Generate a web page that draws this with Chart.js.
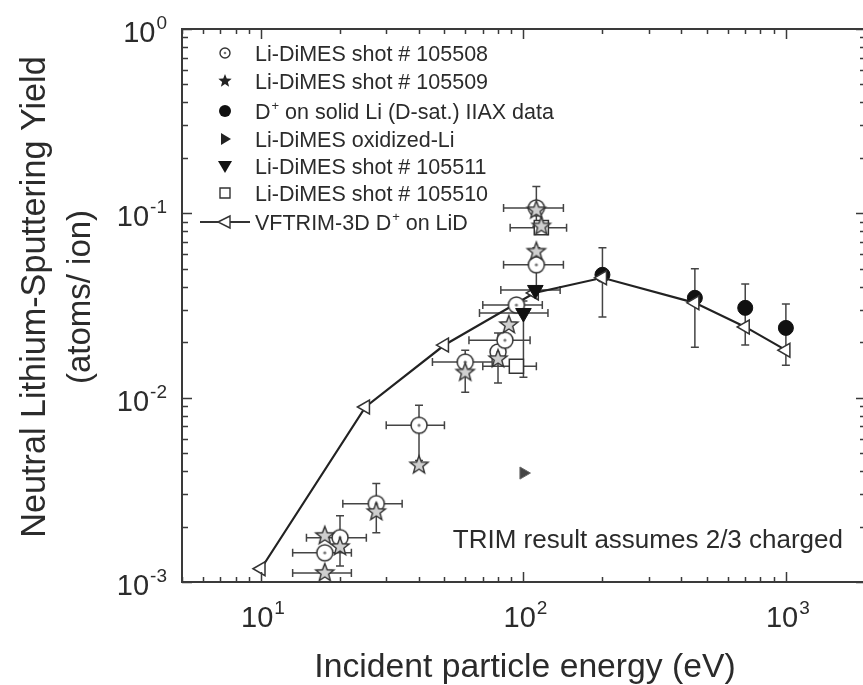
<!DOCTYPE html>
<html>
<head>
<meta charset="utf-8">
<script src="https://cdn.jsdelivr.net/npm/chart.js@4.4.0/dist/chart.umd.min.js"></script>
<style>
  html, body { margin: 0; padding: 0; background: #fff; overflow: hidden; }
  #c { display: block; width: 863px; height: 685px; }
</style>
</head>
<body>
<canvas id="c" width="863" height="685"></canvas>
<script>
// axis ranges and tick labels
const xMin = 5, xMax = 1950, yMin = 1e-3, yMax = 1;
const xMajor = [10, 100, 1000];
const xMajorExp = ['1', '2', '3'];
const yMajor = [1e-3, 1e-2, 1e-1, 1];
const yMajorExp = ['-3', '-2', '-1', '0'];

// Li-DiMES shot # 105508 (open circles)
const e105508   = [17.5, 20, 27.5, 40, 60, 80, 85, 94, 112, 112];
const y105508   = [0.00144, 0.00174, 0.00266, 0.00708, 0.0156, 0.0177, 0.0205, 0.0318, 0.0526, 0.107];
const xLo105508 = [13.2, 14.9, 20.5, 30, 45, null, 62, 70, 84, 84];
const xHi105508 = [22.1, 25.2, 34.5, 50, 76, null, 106, 118, 142, 142];
const yLo105508 = [null, 0.00122, 0.00185, 0.00456, 0.0107, 0.012, null, null, 0.04, 0.085];
const yHi105508 = [null, 0.00229, 0.00342, 0.0091, 0.0181, 0.0224, null, null, 0.065, 0.14];

// Li-DiMES shot # 105509 (stars)
const e105509   = [17.5, 17.5, 20, 27.5, 40, 60, 80, 88, 112, 117, 112];
const y105509   = [0.00178, 0.00112, 0.00155, 0.0024, 0.0043, 0.0137, 0.0162, 0.0248, 0.062, 0.085, 0.104];
const xLo105509 = [null, 13.2, null, null, null, null, null, null, null, null, null];
const xHi105509 = [null, 22.1, null, null, null, null, null, null, null, null, null];

// D+ on solid Li (D-sat.) IIAX data (filled circles)
const eIIAX   = [200, 450, 700, 1000];
const yIIAX   = [0.0464, 0.0348, 0.0307, 0.0239];
const yLoIIAX = [0.0274, 0.0188, 0.0193, 0.015];
const yHiIIAX = [0.065, 0.050, 0.0414, 0.0322];

// Li-DiMES oxidized-Li
const eOx = [100];
const yOx = [0.0039];

// Li-DiMES shot # 105511 (filled down triangles)
const e105511   = [111, 100];
const y105511   = [0.0384, 0.0288];
const xLo105511 = [82, 68];
const xHi105511 = [138, 124];
const yLo105511 = [null, 0.0129];
const yHi105511 = [null, 0.0335];

// Li-DiMES shot # 105510 (open squares)
const e105510   = [94, 117];
const y105510   = [0.0148, 0.0836];
const xLo105510 = [70, 89];
const xHi105510 = [112, 146];

// VFTRIM-3D D+ on LiD
const eTrim = [10, 25, 50, 110, 200, 450, 700, 1000];
const yTrim = [0.00118, 0.0089, 0.0193, 0.037, 0.0447, 0.0327, 0.0242, 0.0181];

const FONT = '"Liberation Sans", Arial, Helvetica, sans-serif';
const INK = '#2b2b2b';

const pts = (xs, ys) => xs.map((v, i) => ({ x: v, y: ys[i] }));

function starPath(c, x, y, ro, ri) {
  c.beginPath();
  for (let i = 0; i < 10; i++) {
    const r = i % 2 ? ri : ro;
    const a = -Math.PI / 2 + i * Math.PI / 5;
    c.lineTo(x + r * Math.cos(a), y + r * Math.sin(a));
  }
  c.closePath();
}

function markerCanvas(size, draw) {
  const cv = document.createElement('canvas');
  cv.width = cv.height = size;
  draw(cv.getContext('2d'), size / 2);
  return cv;
}

const starImg = markerCanvas(24, (c, m) => {
  starPath(c, m, m, 9.5, 4);
  c.fillStyle = '#cfcfcf'; c.fill();
  c.strokeStyle = '#333'; c.lineWidth = 1.4; c.stroke();
});

const dotCircleImg = markerCanvas(22, (c, m) => {
  c.beginPath(); c.arc(m, m, 8, 0, 2 * Math.PI);
  c.fillStyle = '#fff'; c.fill();
  c.strokeStyle = '#333'; c.lineWidth = 1.5; c.stroke();
  c.beginPath(); c.arc(m, m, 1.6, 0, 2 * Math.PI);
  c.fillStyle = '#777'; c.fill();
});

const errSets = [
  { e: e105508, y: y105508, xLo: xLo105508, xHi: xHi105508, yLo: yLo105508, yHi: yHi105508 },
  { e: e105509, y: y105509, xLo: xLo105509, xHi: xHi105509 },
  { e: eIIAX, y: yIIAX, yLo: yLoIIAX, yHi: yHiIIAX },
  { e: e105511, y: y105511, xLo: xLo105511, xHi: xHi105511, yLo: yLo105511, yHi: yHi105511 },
  { e: e105510, y: y105510, xLo: xLo105510, xHi: xHi105510 },
];

const errorBars = {
  id: 'errorBars',
  beforeDatasetsDraw(chart) {
    const { ctx, scales: { x, y } } = chart;
    const cap = 4;
    ctx.save();
    ctx.strokeStyle = '#444';
    ctx.lineWidth = 1.5;
    errSets.forEach(s => s.e.forEach((e, i) => {
      const px = x.getPixelForValue(e), py = y.getPixelForValue(s.y[i]);
      ctx.beginPath();
      if (s.xLo && s.xLo[i] != null) {
        const l = x.getPixelForValue(s.xLo[i]), r = x.getPixelForValue(s.xHi[i]);
        ctx.moveTo(l, py); ctx.lineTo(r, py);
        ctx.moveTo(l, py - cap); ctx.lineTo(l, py + cap);
        ctx.moveTo(r, py - cap); ctx.lineTo(r, py + cap);
      }
      if (s.yLo && s.yLo[i] != null) {
        const b = y.getPixelForValue(s.yLo[i]), t = y.getPixelForValue(s.yHi[i]);
        ctx.moveTo(px, b); ctx.lineTo(px, t);
        ctx.moveTo(px - cap, b); ctx.lineTo(px + cap, b);
        ctx.moveTo(px - cap, t); ctx.lineTo(px + cap, t);
      }
      ctx.stroke();
    }));
    ctx.restore();
  },
};

// text with a raised exponent: parts = [base, sup, rest]
function supText(ctx, parts, x, y, align, size, supSize, rise) {
  ctx.font = `${size}px ${FONT}`;
  const w0 = ctx.measureText(parts[0]).width;
  const w2 = parts[2] ? ctx.measureText(parts[2]).width : 0;
  ctx.font = `${supSize}px ${FONT}`;
  const w1 = ctx.measureText(parts[1]).width;
  const total = w0 + w1 + 1 + w2;
  let left = x;
  if (align === 'right') left = x - total;
  if (align === 'center') left = x - total / 2;
  ctx.textAlign = 'left';
  ctx.textBaseline = 'alphabetic';
  ctx.font = `${size}px ${FONT}`;
  ctx.fillText(parts[0], left, y);
  ctx.font = `${supSize}px ${FONT}`;
  ctx.fillText(parts[1], left + w0 + 1, y - rise);
  if (parts[2]) {
    ctx.font = `${size}px ${FONT}`;
    ctx.fillText(parts[2], left + w0 + 1 + w1, y);
  }
}

function isMajor(v) {
  const l = Math.log10(v);
  return Math.abs(l - Math.round(l)) < 1e-9;
}

const frame = {
  id: 'frame',
  afterDraw(chart) {
    const { ctx, chartArea: a, scales: { x, y } } = chart;
    // the right spine sits just past the canvas edge; only its ticks show
    const rightSpine = a.right + 4;
    ctx.save();
    ctx.strokeStyle = '#3a3a3a';
    ctx.fillStyle = INK;

    const xt = [], yt = [];
    for (let d = 0; d <= 3; d++) for (let k = 1; k <= 9; k++) {
      const v = k * Math.pow(10, d);
      if (v >= xMin && v <= xMax) xt.push(v);
    }
    for (let d = -3; d <= 0; d++) for (let k = 1; k <= 9; k++) {
      const v = k * Math.pow(10, d);
      if (v >= yMin * 0.999 && v <= yMax * 1.001) yt.push(v);
    }

    ctx.lineWidth = 1.5;
    ctx.beginPath();
    xt.forEach(v => {
      const px = Math.round(x.getPixelForValue(v)) + 0.5;
      const len = isMajor(v) ? 10 : 5;
      ctx.moveTo(px, a.bottom); ctx.lineTo(px, a.bottom - len);
      ctx.moveTo(px, a.top); ctx.lineTo(px, a.top + len);
    });
    yt.forEach(v => {
      const py = Math.round(y.getPixelForValue(v)) + 0.5;
      const len = isMajor(v) ? 10 : 6;
      ctx.moveTo(a.left, py); ctx.lineTo(a.left + len, py);
      ctx.moveTo(rightSpine, py); ctx.lineTo(rightSpine - len, py);
    });
    ctx.stroke();

    ctx.lineWidth = 2;
    ctx.beginPath();
    ctx.moveTo(rightSpine, a.top); ctx.lineTo(a.left, a.top);
    ctx.lineTo(a.left, a.bottom); ctx.lineTo(rightSpine, a.bottom);
    ctx.stroke();

    // tick labels
    xMajor.forEach((v, i) => {
      supText(ctx, ['10', xMajorExp[i]], x.getPixelForValue(v) + 2, 627, 'center', 29, 19, 13);
    });
    yMajor.forEach((v, i) => {
      supText(ctx, ['10', yMajorExp[i]], 167, y.getPixelForValue(v) + 13, 'right', 29, 19, 13);
    });

    // axis titles
    ctx.textAlign = 'center';
    ctx.textBaseline = 'alphabetic';
    ctx.font = `33.7px ${FONT}`;
    ctx.fillText('Incident particle energy (eV)', 525, 677);
    ctx.save();
    ctx.translate(45, 297);
    ctx.rotate(-Math.PI / 2);
    ctx.font = `34.2px ${FONT}`;
    ctx.fillText('Neutral Lithium-Sputtering Yield', 0, 0);
    ctx.font = `33px ${FONT}`;
    ctx.fillText('(atoms/ ion)', 0, 45);
    ctx.restore();

    // annotation
    ctx.font = `26px ${FONT}`;
    ctx.textAlign = 'right';
    ctx.fillText('TRIM result assumes 2/3 charged', 843, 548);

    // legend
    const rows = [53, 81, 111, 139, 166, 193, 222];
    const mx = 225, tx = 255, fs = 21.5;
    const labels = [
      ['Li-DiMES shot # 105508'],
      ['Li-DiMES shot # 105509'],
      ['D', '+', ' on solid Li (D-sat.) IIAX data'],
      ['Li-DiMES oxidized-Li'],
      ['Li-DiMES shot # 105511'],
      ['Li-DiMES shot # 105510'],
      ['VFTRIM-3D D', '+', ' on LiD'],
    ];
    labels.forEach((lab, i) => {
      const by = rows[i] + 8;
      ctx.fillStyle = INK;
      if (lab.length === 1) {
        ctx.font = `${fs}px ${FONT}`;
        ctx.textAlign = 'left';
        ctx.fillText(lab[0], tx, by);
      } else {
        supText(ctx, lab, tx, by, 'left', fs, 13, 9);
      }
    });

    ctx.lineWidth = 1.4;
    ctx.strokeStyle = '#333';
    ctx.beginPath(); ctx.arc(mx, rows[0], 5, 0, 2 * Math.PI);
    ctx.fillStyle = '#fff'; ctx.fill(); ctx.stroke();
    ctx.beginPath(); ctx.arc(mx, rows[0], 1.3, 0, 2 * Math.PI);
    ctx.fillStyle = '#777'; ctx.fill();
    starPath(ctx, mx, rows[1], 7, 3);
    ctx.fillStyle = '#222'; ctx.fill();
    ctx.beginPath(); ctx.arc(mx, rows[2], 6, 0, 2 * Math.PI);
    ctx.fillStyle = '#111'; ctx.fill();
    ctx.beginPath();
    ctx.moveTo(mx + 6, rows[3]); ctx.lineTo(mx - 4, rows[3] - 6); ctx.lineTo(mx - 4, rows[3] + 6);
    ctx.closePath(); ctx.fillStyle = '#222'; ctx.fill();
    ctx.beginPath();
    ctx.moveTo(mx, rows[4] + 7); ctx.lineTo(mx - 7, rows[4] - 5); ctx.lineTo(mx + 7, rows[4] - 5);
    ctx.closePath(); ctx.fillStyle = '#111'; ctx.fill();
    ctx.beginPath(); ctx.rect(mx - 5, rows[5] - 5, 10, 10);
    ctx.fillStyle = '#fff'; ctx.fill(); ctx.stroke();
    ctx.lineWidth = 2.2;
    ctx.beginPath(); ctx.moveTo(200, rows[6]); ctx.lineTo(250, rows[6]); ctx.stroke();
    ctx.lineWidth = 1.4;
    ctx.beginPath();
    ctx.moveTo(mx - 7, rows[6]); ctx.lineTo(mx + 5, rows[6] - 6); ctx.lineTo(mx + 5, rows[6] + 6);
    ctx.closePath(); ctx.fillStyle = '#fff'; ctx.fill(); ctx.stroke();

    ctx.restore();
  },
};

new Chart(document.getElementById('c'), {
  type: 'scatter',
  data: {
    datasets: [
      {
        label: 'D+ on solid Li (D-sat.) IIAX data',
        data: pts(eIIAX, yIIAX),
        pointStyle: 'circle', pointRadius: 7.5,
        backgroundColor: '#111', borderColor: '#111', borderWidth: 1,
        order: 6,
      },
      {
        label: 'VFTRIM-3D D+ on LiD',
        data: pts(eTrim, yTrim),
        showLine: true,
        borderColor: '#222', borderWidth: 2.2,
        pointStyle: 'triangle', pointRotation: -90, pointRadius: 8,
        pointBackgroundColor: '#fff', pointBorderColor: '#333', pointBorderWidth: 1.5,
        order: 5,
      },
      {
        label: 'Li-DiMES shot # 105508',
        data: pts(e105508, y105508),
        pointStyle: dotCircleImg, pointRadius: 8,
        order: 4,
      },
      {
        label: 'Li-DiMES shot # 105510',
        data: pts(e105510, y105510),
        pointStyle: 'rect', pointRadius: 10,
        backgroundColor: '#fff', borderColor: '#333', borderWidth: 1.5,
        order: 3,
      },
      {
        label: 'Li-DiMES shot # 105509',
        data: pts(e105509, y105509),
        pointStyle: starImg, pointRadius: 9,
        order: 2,
      },
      {
        label: 'Li-DiMES shot # 105511',
        data: pts(e105511, y105511),
        pointStyle: 'triangle', pointRotation: 180, pointRadius: 9,
        backgroundColor: '#111', borderColor: '#111', borderWidth: 1,
        order: 1,
      },
      {
        label: 'Li-DiMES oxidized-Li',
        data: pts(eOx, yOx),
        pointStyle: 'triangle', pointRotation: 90, pointRadius: 7,
        backgroundColor: '#444', borderColor: '#666', borderWidth: 1,
        order: 0,
      },
    ],
  },
  options: {
    responsive: false,
    maintainAspectRatio: false,
    devicePixelRatio: 1,
    animation: false,
    layout: { autoPadding: false, padding: { left: 182, top: 29, right: 1, bottom: 103 } },
    plugins: { legend: { display: false }, tooltip: { enabled: false } },
    scales: {
      x: { type: 'logarithmic', min: xMin, max: xMax, display: false },
      y: { type: 'logarithmic', min: yMin, max: yMax, display: false },
    },
  },
  plugins: [errorBars, frame],
});
</script>
</body>
</html>
